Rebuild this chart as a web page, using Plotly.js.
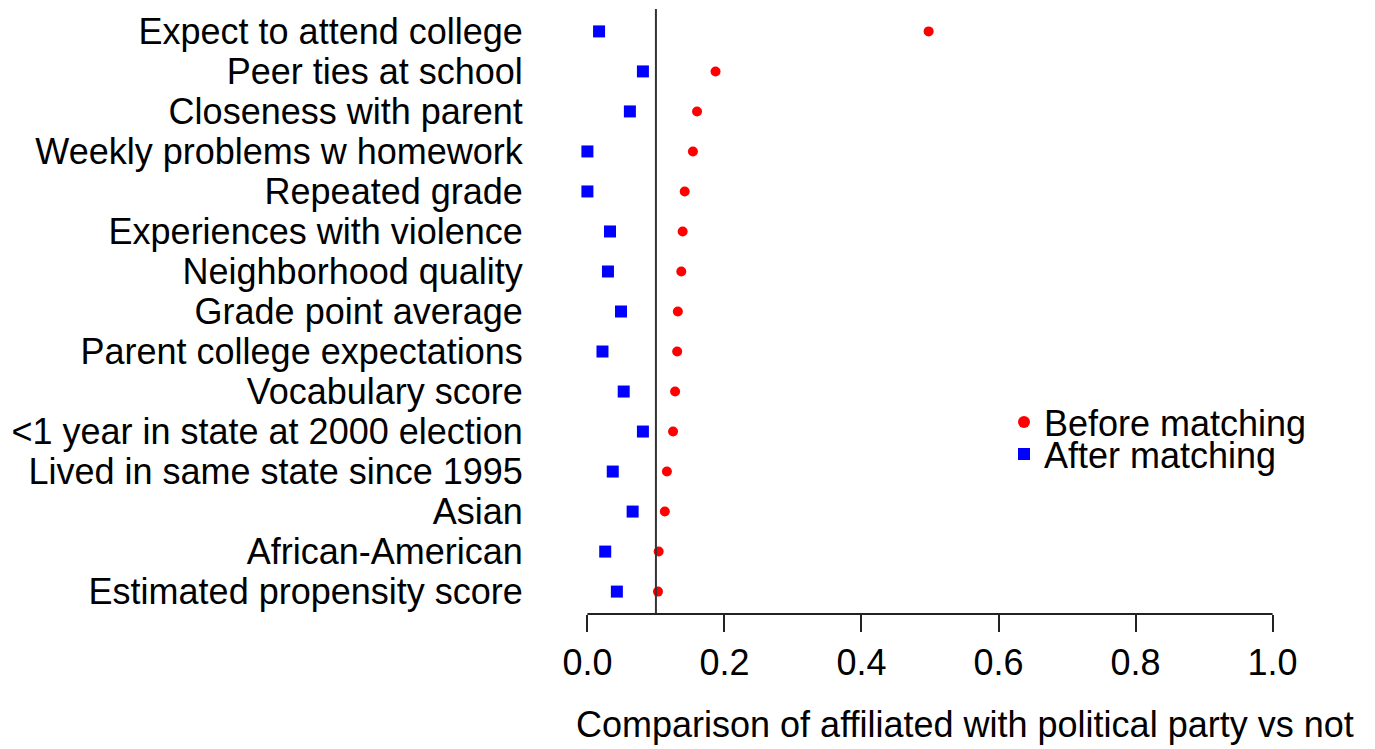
<!DOCTYPE html>
<html>
<head>
<meta charset="utf-8">
<script src="https://cdn.plot.ly/plotly-3.0.1.min.js"></script>
<style>
  html, body { margin: 0; padding: 0; background: #fff; }
  #chart { width: 1375px; height: 749px; }
</style>
</head>
<body>
<div id="chart"></div>
<script>
// Covariates, listed top to bottom as in the chart
const covariates = [
  "Expect to attend college",
  "Peer ties at school",
  "Closeness with parent",
  "Weekly problems w homework",
  "Repeated grade",
  "Experiences with violence",
  "Neighborhood quality",
  "Grade point average",
  "Parent college expectations",
  "Vocabulary score",
  "<1 year in state at 2000 election",
  "Lived in same state since 1995",
  "Asian",
  "African-American",
  "Estimated propensity score"
];

// Standardized differences before matching (red dots)
const beforeMatching = [
  0.498, 0.187, 0.160, 0.154, 0.142, 0.139, 0.137, 0.132,
  0.131, 0.128, 0.125, 0.116, 0.113, 0.104, 0.103
];

// Standardized differences after matching (blue squares)
const afterMatching = [
  0.017, 0.081, 0.062, 0.000, 0.000, 0.033, 0.030, 0.049,
  0.022, 0.053, 0.081, 0.037, 0.066, 0.026, 0.043
];

const xTicks = [0, 0.2, 0.4, 0.6, 0.8, 1.0];
const xTickLabels = ["0.0", "0.2", "0.4", "0.6", "0.8", "1.0"];
const referenceLine = 0.1;
const legendNames = ["Before matching", "After matching"];
const xAxisTitle = "Comparison of affiliated with political party vs not";

const FONT = "Liberation Sans, Arial, Helvetica, sans-serif";

const traces = [
  {
    type: "scatter",
    mode: "markers",
    name: legendNames[0],
    legend: "legend",
    x: beforeMatching,
    y: covariates,
    marker: { symbol: "circle", color: "#ff0000", size: 10, line: { width: 0 } },
    cliponaxis: false
  },
  {
    type: "scatter",
    mode: "markers",
    name: legendNames[1],
    legend: "legend2",
    x: afterMatching,
    y: covariates,
    marker: { symbol: "square", color: "#0000ff", size: 12, line: { width: 0 } },
    cliponaxis: false
  }
];

const legendBase = {
  x: 0.6, xanchor: "left", yanchor: "top",
  bgcolor: "rgba(0,0,0,0)",
  font: { family: FONT, size: 36, color: "#000000" },
  itemsizing: "constant"
};

const layout = {
  width: 1375,
  height: 749,
  paper_bgcolor: "#ffffff",
  plot_bgcolor: "#ffffff",
  font: { family: FONT, size: 36, color: "#000000" },
  margin: { l: 560, r: 75, t: 9, b: 135 },
  showlegend: true,
  legend: Object.assign({}, legendBase, { y: 0.3666 }),
  legend2: Object.assign({}, legendBase, { y: 0.3138 }),
  xaxis: {
    range: [-0.04, 1.04],
    tickvals: xTicks,
    ticktext: xTickLabels,
    ticks: "outside",
    ticklen: 17,
    tickwidth: 2,
    tickcolor: "#222222",
    showgrid: false,
    zeroline: false,
    showline: false,
    tickfont: { family: FONT, size: 36, color: "#000000" }
  },
  yaxis: {
    type: "category",
    categoryorder: "array",
    categoryarray: covariates.slice().reverse(),
    tickmode: "array",
    tickvals: covariates,
    ticktext: covariates,
    range: [-0.56, 14.56],
    ticks: "outside",
    ticklen: 29,
    tickcolor: "rgba(0,0,0,0)",
    showgrid: false,
    zeroline: false,
    showline: false,
    tickfont: { family: FONT, size: 36, color: "#000000" }
  },
  annotations: [
    {
      text: xAxisTitle,
      xref: "paper", yref: "paper",
      x: 0.547, y: -0.1826,
      xanchor: "center", yanchor: "middle",
      showarrow: false,
      font: { family: FONT, size: 36, color: "#000000" }
    }
  ],
  shapes: [
    {
      type: "line", xref: "x", yref: "paper",
      x0: referenceLine, x1: referenceLine, y0: 0, y1: 1,
      line: { color: "#333333", width: 2 }
    },
    {
      type: "line", xref: "x", yref: "paper",
      x0: xTicks[0], x1: xTicks[xTicks.length - 1], y0: 0, y1: 0,
      line: { color: "#222222", width: 2 }
    }
  ]
};

Plotly.newPlot("chart", traces, layout, { displayModeBar: false, staticPlot: true });
</script>
</body>
</html>
